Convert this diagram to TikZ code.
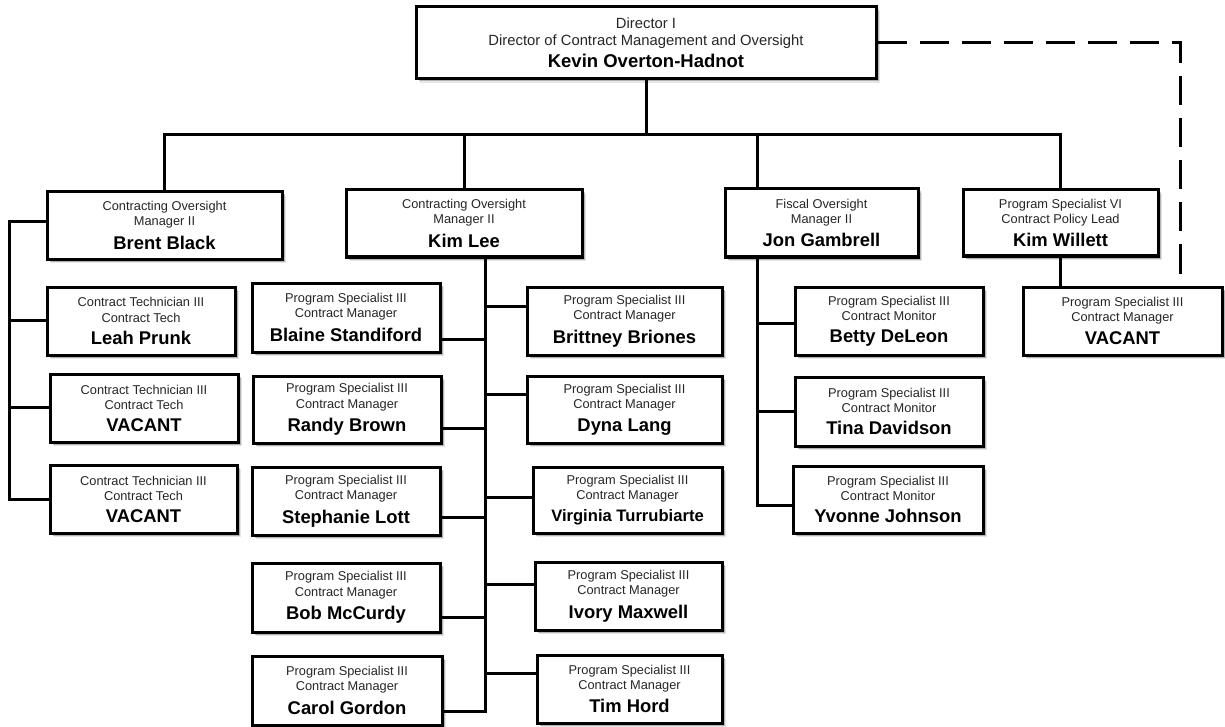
\documentclass[tikz,border=0pt]{standalone}
\usepackage{fontspec}
\setmainfont{Liberation Sans}
\usetikzlibrary{shadows}
\pgfdeclarelayer{bg}
\pgfsetlayers{bg,main}
\newcommand{\smallf}{\fontsize{12.8}{15.3}\selectfont}
\newcommand{\namef}{\fontsize{18.4}{20}\selectfont\bfseries\color{black}}
\tikzset{
  box/.style={draw=black, line width=3pt, fill=white, inner sep=0pt, align=center,
    font=\smallf, text=black!85,
    drop shadow={shadow xshift=4pt, shadow yshift=-4pt, opacity=0.10, fill=black},
    drop shadow={shadow xshift=2.5pt, shadow yshift=-2.5pt, opacity=0.22, fill=black}},
  conn/.style={line width=3pt, line cap=rect, draw=black},
  dashline/.style={line width=3pt, draw=black, dash pattern=on 29pt off 13pt}
}
\newcommand{\orgbox}[8]{%
  \node[box, minimum width={(#4-#2)*1pt}, minimum height={(#5-#3)*1pt}]
    (#1) at ({(#2+#4)/2},{(#3+#5)/2}) {#6\\#7\\[6.5pt]{\namef #8}};}
\begin{document}
\begin{tikzpicture}[x=1pt,y=-1pt]
\useasboundingbox (0,0) rectangle (1225,727);

% Director
\node[box, font=\fontsize{14.8}{17}\selectfont, minimum width=460pt, minimum height=72pt]
  (dir) at (646,43) {Director I\\Director of Contract Management and Oversight\\[5pt]{\fontsize{18.5}{20}\selectfont\bfseries\color{black} Kevin Overton-Hadnot}};

% Managers
\orgbox{brent}{47}{192}{282}{259}{Contracting Oversight}{Manager II}{Brent Black}
\orgbox{lee}{346}{190}{582}{257}{Contracting Oversight}{Manager II}{Kim Lee}
\orgbox{jon}{725}{189}{918}{257}{Fiscal Oversight}{Manager II}{Jon Gambrell}
\orgbox{willett}{963}{190}{1158}{256}{Program Specialist VI}{Contract Policy Lead}{Kim Willett}
\orgbox{vacr}{1023}{287}{1222}{355}{Program Specialist III}{Contract Manager}{VACANT}

% Brent's reports
\orgbox{leah}{47}{287}{235}{355}{Contract Technician III}{Contract Tech}{Leah Prunk}
\orgbox{vaca}{50}{374}{238}{442}{Contract Technician III}{Contract Tech}{VACANT}
\orgbox{vacb}{50}{465}{237}{533}{Contract Technician III}{Contract Tech}{VACANT}

% Kim Lee's reports
\orgbox{blaine}{252}{283}{440}{352}{Program Specialist III}{Contract Manager}{Blaine Standiford}
\orgbox{randy}{253}{376}{441}{443}{Program Specialist III}{Contract Manager}{Randy Brown}
\orgbox{steph}{252}{467}{440}{535}{Program Specialist III}{Contract Manager}{Stephanie Lott}
\orgbox{bob}{252}{563}{440}{632}{Program Specialist III}{Contract Manager}{Bob McCurdy}
\orgbox{carol}{252}{656}{442}{725}{Program Specialist III}{Contract Manager}{Carol Gordon}
\orgbox{brit}{527}{287}{722}{355}{Program Specialist III}{Contract Manager}{Brittney Briones}
\orgbox{dyna}{527}{376}{722}{443}{Program Specialist III}{Contract Manager}{Dyna Lang}
\orgbox{virg}{533}{467}{722}{533}{Program Specialist III}{Contract Manager}{\fontsize{16.6}{18}\selectfont Virginia Turrubiarte}
\orgbox{ivory}{535}{562}{722}{630}{Program Specialist III}{Contract Manager}{Ivory Maxwell}
\orgbox{tim}{537}{655}{722}{723}{Program Specialist III}{Contract Manager}{Tim Hord}

% Jon's reports
\orgbox{betty}{795}{287}{983}{355}{Program Specialist III}{Contract Monitor}{Betty DeLeon}
\orgbox{tina}{795}{377}{983}{446}{Program Specialist III}{Contract Monitor}{Tina Davidson}
\orgbox{yvonne}{793}{466}{983}{533}{Program Specialist III}{Contract Monitor}{Yvonne Johnson}

\begin{pgfonlayer}{bg}
% top level
\coordinate (bus) at (646,135);
\coordinate (jonDrop) at (757,135);
\draw[conn] (dir.south) -- (bus);
\draw[conn] (brent.north) |- (bus) -| (willett.north);
\draw[conn] (bus -| lee.north) -- (lee.north);
\draw[conn] (jonDrop) -- (jonDrop |- jon.north);
% dashed
\coordinate (dashEnd) at (1180,284);
\draw[dashline] (dir.east) -| (dashEnd);
% Willett
\draw[conn] (willett.south) -- (willett.south |- vacr.north);
% left column
\coordinate (lTop) at (9,222);
\coordinate (lBot) at (9,499);
\coordinate (lLeah) at (9,320);
\coordinate (lVa) at (9,407);
\draw[conn] (brent.west |- lTop) -- (lTop) -- (lBot) -- (lBot -| vacb.west);
\draw[conn] (lLeah) -- (lLeah -| leah.west);
\draw[conn] (lVa) -- (lVa -| vaca.west);
% Kim Lee trunk
\coordinate (tx) at (485,0);
\coordinate (tBrit) at (485,306);
\coordinate (tBlaine) at (485,339);
\coordinate (tDyna) at (485,394);
\coordinate (tRandy) at (485,428);
\coordinate (tVirg) at (485,497);
\coordinate (tSteph) at (485,517);
\coordinate (tIvory) at (485,584);
\coordinate (tBob) at (485,617);
\coordinate (tTim) at (485,673);
\coordinate (tCarol) at (485,711);
\draw[conn] (lee.south -| tx) -- (tCarol) -- (tCarol -| carol.east);
\draw[conn] (tBrit) -- (tBrit -| brit.west);
\draw[conn] (tBlaine) -- (tBlaine -| blaine.east);
\draw[conn] (tDyna) -- (tDyna -| dyna.west);
\draw[conn] (tRandy) -- (tRandy -| randy.east);
\draw[conn] (tVirg) -- (tVirg -| virg.west);
\draw[conn] (tSteph) -- (tSteph -| steph.east);
\draw[conn] (tIvory) -- (tIvory -| ivory.west);
\draw[conn] (tBob) -- (tBob -| bob.east);
\draw[conn] (tTim) -- (tTim -| tim.west);
% Jon trunk
\coordinate (jBetty) at (757,323);
\coordinate (jTina) at (757,411);
\coordinate (jYv) at (757,505);
\draw[conn] (jon.south -| jonDrop) -- (jYv) -- (jYv -| yvonne.west);
\draw[conn] (jBetty) -- (jBetty -| betty.west);
\draw[conn] (jTina) -- (jTina -| tina.west);
\end{pgfonlayer}
\end{tikzpicture}
\end{document}
